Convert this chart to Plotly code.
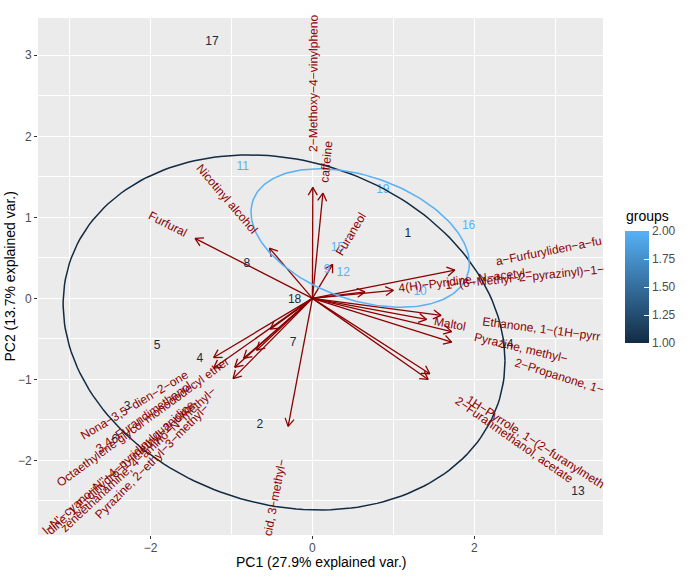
import numpy as np
import plotly.graph_objects as go

# ---------------- data ----------------
obs_ids = [str(i) for i in range(1, 20)]
pc1 = [1.18, -0.65, -2.29, -1.39, -1.92, -2.44, -0.24, -0.81, 0.18, 1.33,
       -0.86, 0.38, 3.28, 2.40, 0.31, 1.93, -1.24, -0.22, 0.87]
pc2 = [0.79, -1.56, -1.34, -0.75, -0.59, -1.75, -0.55, 0.42, 0.35, 0.08,
       1.62, 0.31, -2.39, -0.58, 0.62, 0.89, 3.16, -0.02, 1.34]
groups = [1, 1, 1, 1, 1, 1, 1, 1, 2, 2, 2, 2, 1, 1, 2, 2, 1, 1, 2]

var_names = [
    "Furfural",
    "Nicotinyl alcohol",
    "2−Methoxy−4−vinylphenol",
    "caffeine",
    "Furaneol",
    "a−Furfuryliden−a−furfurylamine",
    "1−(6−Methyl−2−pyrazinyl)−1−ethanone",
    "4(H)−Pyridine, N−acetyl−",
    "Maltol",
    "Ethanone, 1−(1H−pyrrol−2−yl)−",
    "Pyrazine, methyl−",
    "2−Propanone, 1−(4−hydroxy−3−methoxyphenyl)−",
    "1H−Pyrrole, 1−(2−furanylmethyl)−",
    "2−Furanmethanol, acetate",
    "Nona−3,5−dien−2−one",
    "3,4−Furandimethanol",
    "Octaethylene glycol monododecyl ether",
    "Pyrazine, 2−ethyl−3−methyl−",
    "Pyridine, 1,2−dihydro−1−methyl−2−oxo−",
    "N−Cyclohexyl−N'−cyano−N''−4−pyridinylguanidine",
    "Benzeneethanamine, 4−amino−N−methyl−",
    "Butanoic acid, 3−methyl−",
]
var_x = [-1.45, -0.53, 0.005, 0.13, 0.25, 1.76, 1.00, 0.65, 1.41, 1.59, 1.72,
         1.72, 1.45, 1.43, -1.22, -1.22, -0.52, -0.98, -0.96, -0.85, -0.69, -0.30]
var_y = [0.74, 0.62, 1.37, 1.30, 0.42, 0.35, 0.10, 0.08, -0.26, -0.21, -0.41,
         -0.54, -0.93, -1.00, -0.73, -0.86, -0.38, -0.99, -0.85, -0.74, -0.64, -1.58]

# group ellipses: centre and covariance-like shape
ell_groups = [1, 2]
ell_center = [(-0.35, -0.42), (0.59, 0.745)]
ell_cov = [[[7.45, -0.96], [-0.96, 4.80]], [[1.82, -0.43], [-0.43, 0.73]]]

x_ticks = [-2, 0, 2]
y_ticks = [-2, -1, 0, 1, 2, 3]
cbar_ticks = [1, 1.25, 1.5, 1.75, 2]
cbar_labels = ["1.00", "1.25", "1.50", "1.75", "2.00"]

# ---------------- layout constants ----------------
W, H = 688, 581
PANEL_L, PANEL_T, PANEL_R, PANEL_B = 38, 18, 603, 535   # page pixels
ML, MT = PANEL_L, PANEL_T
MR, MB = W - PANEL_R, H - PANEL_B
PW, PH = PANEL_R - PANEL_L, PANEL_B - PANEL_T
XR = [-3.39, 3.59]
YR = [-2.92, 3.46]
PX = PW / (XR[1] - XR[0])  # pixels per data unit
FS = 12
LOW, HIGH = "#132B43", "#56B1F7"
DARKRED = "#8B0000"

ARIAL = {' ': 278, "'": 191, '(': 333, ')': 333, ',': 278, '-': 333, '.': 278,
         '−': 584, '%': 889}
for ch in "0123456789":
    ARIAL[ch] = 556
ARIAL.update(dict(A=667, B=667, C=722, D=722, E=667, F=611, G=778, H=722, I=278,
                  J=500, K=667, L=556, M=833, N=722, O=778, P=667, Q=778, R=722,
                  S=667, T=611, U=722, V=667, W=944, X=667, Y=667, Z=611,
                  a=556, b=556, c=500, d=556, e=556, f=278, g=556, h=556, i=222,
                  j=222, k=500, l=222, m=833, n=556, o=556, p=556, q=556, r=333,
                  s=500, t=278, u=556, v=500, w=722, x=500, y=500, z=500))


def cw(c):
    return ARIAL.get(c, 556) * FS / 1000 / PX


def lerp_color(v):
    t = (v - 1) / 1.0
    a = [int(LOW[i:i + 2], 16) for i in (1, 3, 5)]
    b = [int(HIGH[i:i + 2], 16) for i in (1, 3, 5)]
    return "#" + "".join(f"{round(a[k] + (b[k] - a[k]) * t):02x}" for k in range(3))


def px_to_paper_x(px):
    return (px - PANEL_L) / PW


def px_to_paper_y(py):
    return (PANEL_B - py) / PH


fig = go.Figure()

# ---------------- arrows ----------------
ax_x, ax_y = [], []
head = 9 / PX
for vx, vy in zip(var_x, var_y):
    r = np.hypot(vx, vy)
    ux, uy = vx / r, vy / r
    ax_x += [0, vx, None]
    ax_y += [0, vy, None]
    for s in (1, -1):
        a = np.radians(30) * s
        dx = ux * np.cos(a) - uy * np.sin(a)
        dy = ux * np.sin(a) + uy * np.cos(a)
        ax_x += [vx - head * dx, vx, None]
        ax_y += [vy - head * dy, vy, None]
fig.add_trace(go.Scatter(x=ax_x, y=ax_y, mode="lines",
                         line=dict(color=DARKRED, width=1.3),
                         hoverinfo="skip", showlegend=False))

# ---------------- observation labels ----------------
fig.add_trace(go.Scatter(x=pc1, y=pc2, mode="text", text=obs_ids,
                         textfont=dict(size=FS, color=[lerp_color(g) for g in groups],
                                       family="Liberation Sans, Arial"),
                         hoverinfo="skip", showlegend=False))

# ---------------- ellipses ----------------
t = np.linspace(0, 2 * np.pi, 200)
for g, c, S in zip(ell_groups, ell_center, ell_cov):
    L = np.linalg.cholesky(np.array(S))
    pts = L @ np.vstack([np.cos(t), np.sin(t)])
    fig.add_trace(go.Scatter(x=c[0] + pts[0], y=c[1] + pts[1], mode="lines",
                             line=dict(color=lerp_color(g), width=1.5),
                             hoverinfo="skip", showlegend=False))

# ---------------- colour bar ----------------
fig.add_trace(go.Scatter(
    x=[pc1[0]], y=[pc2[0]], mode="markers", hoverinfo="skip", showlegend=False,
    marker=dict(size=0.1, opacity=0, color=[1.5], cmin=1, cmax=2,
                colorscale=[[0, LOW], [1, HIGH]], showscale=True,
                colorbar=dict(
                    x=px_to_paper_x(625), xanchor="left",
                    y=px_to_paper_y(231), yanchor="top",
                    lenmode="pixels", len=112, thickness=24, thicknessmode="pixels",
                    xpad=0, ypad=0, outlinewidth=0,
                    tickvals=cbar_ticks, ticktext=cbar_labels,
                    ticks="inside", ticklen=5, tickcolor="white",
                    tickfont=dict(size=12, color="#4D4D4D")))))

# ---------------- variable labels (clipped to panel like ggplot) ----------------
annotations = []
half_h = 4 / PX
for name, vx, vy in zip(var_names, var_x, var_y):
    r = np.hypot(vx, vy)
    ux, uy = vx / r, vy / r
    widths = [cw(c) for c in name]
    Wfull = sum(widths)
    s0 = r + 0.25 * Wfull
    lims = []
    if abs(ux) > 1e-9:
        bx = XR[1] if ux > 0 else XR[0]
        lims.append((bx - np.sign(ux) * half_h * abs(uy)) / ux)
    if abs(uy) > 1e-9:
        by = YR[1] if uy > 0 else YR[0]
        lims.append((by - np.sign(uy) * half_h * abs(ux)) / uy)
    smax = min(lims)
    order = list(range(len(name))) if vx > 0 else list(range(len(name)))[::-1]
    s = s0
    kept = []
    for idx in order:
        w = widths[idx]
        if s + w * 0.5 <= smax:
            kept.append(idx)
            s += w
        else:
            break
    vis = "".join(name[i] for i in sorted(kept))
    wv = sum(widths[i] for i in kept)
    sc = s0 + wv / 2
    ang = np.degrees(np.arctan(vy / vx))
    annotations.append(dict(x=ux * sc, y=uy * sc, xref="x", yref="y", text=vis,
                            showarrow=False, textangle=-ang,
                            xanchor="center", yanchor="middle",
                            font=dict(size=FS, color=DARKRED,
                                      family="Liberation Sans, Arial")))

# axis titles and legend title as paper annotations
annotations.append(dict(x=0.5, y=px_to_paper_y(562), xref="paper", yref="paper",
                        text="PC1 (27.9% explained var.)", showarrow=False,
                        xanchor="center", yanchor="middle",
                        font=dict(size=14, color="black")))
annotations.append(dict(x=px_to_paper_x(9), y=0.5, xref="paper", yref="paper",
                        text="PC2 (13.7% explained var.)", showarrow=False,
                        textangle=-90, xanchor="center", yanchor="middle",
                        font=dict(size=14, color="black")))
annotations.append(dict(x=px_to_paper_x(624), y=px_to_paper_y(216), xref="paper",
                        yref="paper", text="groups", showarrow=False,
                        xanchor="left", yanchor="middle",
                        font=dict(size=14, color="black")))

fig.update_layout(
    width=W, height=H,
    margin=dict(l=ML, r=MR, t=MT, b=MB, autoexpand=False),
    paper_bgcolor="white", plot_bgcolor="#EBEBEB",
    font=dict(family="Liberation Sans, Arial", color="black"),
    annotations=annotations,
    xaxis=dict(range=XR, tickvals=x_ticks, ticks="outside", ticklen=3,
               tickcolor="#333333", tickfont=dict(size=12, color="#4D4D4D"),
               showgrid=True, gridcolor="white", gridwidth=1.1, zeroline=False,
               showline=False, automargin=False, ticklabelstandoff=-1,
               minor=dict(tickvals=[-3, -1, 1, 3], showgrid=True,
                          gridcolor="white", gridwidth=0.5, ticks="")),
    yaxis=dict(range=YR, tickvals=y_ticks, ticks="outside", ticklen=3,
               tickcolor="#333333", tickfont=dict(size=12, color="#4D4D4D"),
               showgrid=True, gridcolor="white", gridwidth=1.1, zeroline=False,
               showline=False, automargin=False,
               minor=dict(tickvals=[-2.5, -1.5, -0.5, 0.5, 1.5, 2.5, 3.5],
                          showgrid=True, gridcolor="white", gridwidth=0.5, ticks="")),
)

fig.write_html("out.html",
               config={"displayModeBar": False},
               post_script="document.body.style.margin='0';"
                           "document.body.style.overflow='hidden';")
